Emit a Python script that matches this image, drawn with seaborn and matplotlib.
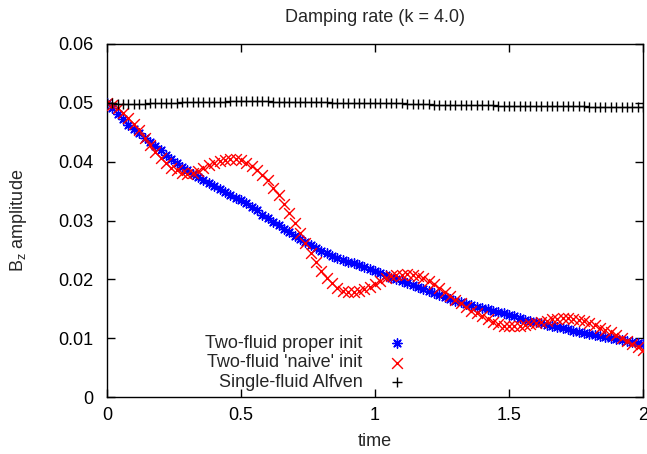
import numpy as np
import pandas as pd
import matplotlib
matplotlib.use("Agg")
import matplotlib.pyplot as plt
import seaborn as sns

time = np.round(np.arange(0, 101) * 0.02, 2)

proper_init = [
    0.0500, 0.0491, 0.0481, 0.0472, 0.0463, 0.0455, 0.0448, 0.0441, 0.0434, 0.0427,
    0.0420, 0.0412, 0.0404, 0.0398, 0.0391, 0.0385, 0.0379, 0.0374, 0.0368, 0.0363,
    0.0358, 0.0353, 0.0348, 0.0343, 0.0338, 0.0334, 0.0329, 0.0323, 0.0317, 0.0310,
    0.0304, 0.0298, 0.0292, 0.0286, 0.0280, 0.0274, 0.0269, 0.0264, 0.0259, 0.0254,
    0.0249, 0.0244, 0.0240, 0.0236, 0.0233, 0.0230, 0.0227, 0.0224, 0.0221, 0.0218,
    0.0215, 0.0211, 0.0207, 0.0203, 0.0200, 0.0197, 0.0194, 0.0190, 0.0187, 0.0183,
    0.0180, 0.0176, 0.0173, 0.0170, 0.0167, 0.0164, 0.0161, 0.0158, 0.0156, 0.0153,
    0.0151, 0.0149, 0.0147, 0.0144, 0.0142, 0.0139, 0.0137, 0.0134, 0.0131, 0.0129,
    0.0127, 0.0125, 0.0123, 0.0121, 0.0119, 0.0117, 0.0115, 0.0113, 0.0111, 0.0109,
    0.0107, 0.0105, 0.0103, 0.0102, 0.0100, 0.0099, 0.0097, 0.0095, 0.0094, 0.0092,
    0.0090,
]

naive_init = [
    0.0500, 0.0497, 0.0492, 0.0483, 0.0474, 0.0464, 0.0453, 0.0441, 0.0429, 0.0416,
    0.0406, 0.0397, 0.0390, 0.0385, 0.0381, 0.0379, 0.0380, 0.0384, 0.0389, 0.0394,
    0.0398, 0.0401, 0.0403, 0.0404, 0.0404, 0.0402, 0.0398, 0.0392, 0.0385, 0.0378,
    0.0368, 0.0356, 0.0343, 0.0328, 0.0312, 0.0296, 0.0279, 0.0262, 0.0245, 0.0229,
    0.0215, 0.0203, 0.0193, 0.0186, 0.0181, 0.0179, 0.0179, 0.0180, 0.0183, 0.0187,
    0.0192, 0.0197, 0.0202, 0.0205, 0.0207, 0.0208, 0.0209, 0.0208, 0.0206, 0.0203,
    0.0198, 0.0192, 0.0185, 0.0178, 0.0171, 0.0165, 0.0159, 0.0153, 0.0147, 0.0142,
    0.0137, 0.0132, 0.0128, 0.0124, 0.0121, 0.0120, 0.0120, 0.0121, 0.0122, 0.0124,
    0.0126, 0.0128, 0.0130, 0.0132, 0.0133, 0.0134, 0.0134, 0.0133, 0.0131, 0.0129,
    0.0126, 0.0122, 0.0118, 0.0114, 0.0110, 0.0105, 0.0100, 0.0095, 0.0090, 0.0085,
    0.0080,
]

single_fluid = [
    0.0500, 0.0499, 0.0498, 0.0498, 0.0498, 0.0498, 0.0498, 0.0498, 0.0499, 0.0499,
    0.0499, 0.0500, 0.0500, 0.0500, 0.0501, 0.0501, 0.0501, 0.0501, 0.0502, 0.0502,
    0.0502, 0.0502, 0.0502, 0.0503, 0.0503, 0.0503, 0.0503, 0.0503, 0.0503, 0.0503,
    0.0503, 0.0502, 0.0502, 0.0502, 0.0502, 0.0502, 0.0502, 0.0501, 0.0501, 0.0501,
    0.0501, 0.0501, 0.0500, 0.0500, 0.0500, 0.0500, 0.0500, 0.0500, 0.0500, 0.0499,
    0.0499, 0.0499, 0.0499, 0.0499, 0.0499, 0.0499, 0.0498, 0.0498, 0.0498, 0.0498,
    0.0498, 0.0497, 0.0497, 0.0497, 0.0497, 0.0497, 0.0497, 0.0496, 0.0496, 0.0496,
    0.0496, 0.0496, 0.0496, 0.0495, 0.0495, 0.0495, 0.0495, 0.0495, 0.0495, 0.0495,
    0.0494, 0.0494, 0.0494, 0.0494, 0.0494, 0.0494, 0.0494, 0.0494, 0.0494, 0.0494,
    0.0493, 0.0493, 0.0493, 0.0493, 0.0493, 0.0493, 0.0493, 0.0493, 0.0493, 0.0493,
    0.0493,
]

series_labels = ["Two-fluid proper init", "Two-fluid 'naive' init", "Single-fluid Alfven"]
x_ticks = [0, 0.5, 1, 1.5, 2]
x_tick_labels = ["0", "0.5", "1", "1.5", "2"]
y_ticks = [0, 0.01, 0.02, 0.03, 0.04, 0.05, 0.06]
y_tick_labels = ["0", "0.01", "0.02", "0.03", "0.04", "0.05", "0.06"]

sns.set_theme(style="white")
plt.rcParams["font.family"] = ["Liberation Sans", "DejaVu Sans"]
plt.rcParams["mathtext.fontset"] = "custom"
plt.rcParams["mathtext.rm"] = "Liberation Sans"

FS = 13

fig = plt.figure(figsize=(6.47, 4.54), dpi=100)
ax = fig.add_axes([107 / 647, 1 - 397 / 454, (643 - 107) / 647, (397 - 44) / 454])

styles = [
    dict(data=proper_init, marker=(8, 2, 0), color="#0000ff", s=45),
    dict(data=naive_init, marker="x", color="#ff0000", s=60),
    dict(data=single_fluid, marker="+", color="#000000", s=50),
]
for label, st in zip(series_labels, styles):
    df = pd.DataFrame({"time": time, "amp": st["data"]})
    sns.scatterplot(data=df, x="time", y="amp", marker=st["marker"], color=st["color"],
                    s=st["s"], linewidth=1.0, label=label, ax=ax, zorder=3)

ax.set_xlim(0, 2)
ax.set_ylim(0, 0.06)
ax.set_xticks(x_ticks)
ax.set_xticklabels(x_tick_labels)
ax.set_yticks(y_ticks)
ax.set_yticklabels(y_tick_labels)
ax.tick_params(direction="in", length=6, width=1, colors="black", labelsize=FS,
               top=True, right=True, bottom=True, left=True)
ax.tick_params(axis="y", pad=10)
ax.tick_params(axis="x", pad=7)
for sp in ax.spines.values():
    sp.set_color("black")
    sp.set_linewidth(1.0)
ax.grid(False)

ax.set_xlabel("time", fontsize=FS)
ax.xaxis.set_label_coords(0.5, (397 - 433) / 353)
ax.set_ylabel(r"B$_\mathregular{z}$ amplitude", fontsize=FS)
ax.yaxis.set_label_coords((29 - 107) / 536, 0.5)
ax.set_title("Damping rate (k = 4.0)", fontsize=FS, pad=16)

leg = ax.legend(loc="lower right", bbox_to_anchor=(415 / 647, 1 - 400 / 454),
                bbox_transform=fig.transFigure, frameon=False, markerfirst=False,
                fontsize=FS, handlelength=1.0, handletextpad=1.4,
                labelspacing=0.15, borderpad=0)

fig.savefig("out.png", dpi=100)
